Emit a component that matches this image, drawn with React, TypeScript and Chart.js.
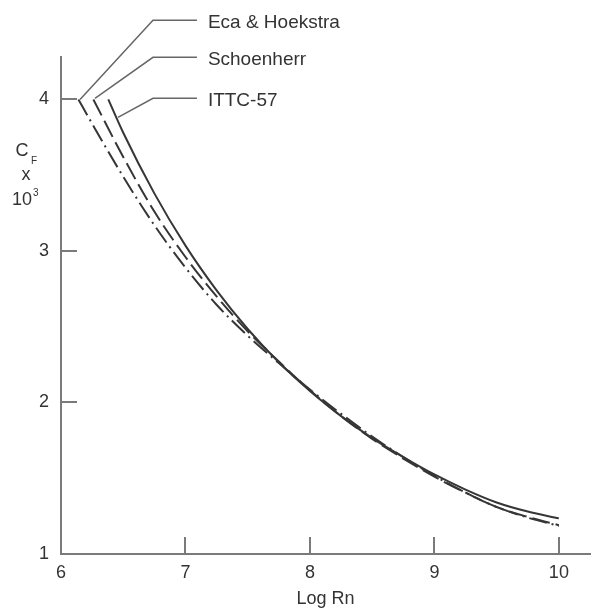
import React, { useEffect, useRef } from "react";
import { Chart, registerables } from "chart.js";

Chart.register(...registerables);

const FONT = "'Liberation Sans', Arial, Helvetica, sans-serif";

// Axis ticks
const X_TICKS = [6, 7, 8, 9, 10];
const Y_TICKS = [1, 2, 3, 4];

// Series names
const SERIES_NAMES = ["Eca & Hoekstra", "Schoenherr", "ITTC-57"];

// Eca & Hoekstra (dash-dot)
const ECA_X = [6.14, 6.25, 6.5, 6.75, 7.0, 7.25, 7.5, 7.75, 8.0, 8.25, 8.5, 8.75, 9.0, 9.25, 9.5, 9.75, 10.0];
const ECA_Y = [4.0, 3.84, 3.49, 3.17, 2.89, 2.645, 2.44, 2.26, 2.085, 1.925, 1.775, 1.64, 1.515, 1.405, 1.31, 1.24, 1.185];

// Schoenherr (dashed)
const SCH_X = [6.26, 6.5, 6.75, 7.0, 7.25, 7.5, 7.75, 8.0, 8.25, 8.5, 8.75, 9.0, 9.25, 9.5, 9.75, 10.0];
const SCH_Y = [4.0, 3.62, 3.26, 2.96, 2.7, 2.47, 2.27, 2.08, 1.91, 1.76, 1.63, 1.51, 1.405, 1.31, 1.245, 1.19];

// ITTC-57 (solid)
const ITTC_X = [6.38, 6.5, 6.75, 7.0, 7.25, 7.5, 7.75, 8.0, 8.25, 8.5, 8.75, 9.0, 9.25, 9.5, 9.75, 10.0];
const ITTC_Y = [4.0, 3.78, 3.38, 3.035, 2.74, 2.485, 2.265, 2.075, 1.91, 1.765, 1.64, 1.525, 1.425, 1.34, 1.28, 1.235];

// Leader lines for the labels (data coordinates)
const LEADER_X = [
  [6.153, 6.739, 7.092],
  [6.273, 6.739, 7.092],
  [6.458, 6.739, 7.092],
];
const LEADER_Y = [
  [4.0, 4.522, 4.522],
  [4.007, 4.278, 4.278],
  [3.881, 4.007, 4.007],
];
const LABEL_X = 7.18;

const pts = (xs: number[], ys: number[]) => xs.map((x, i) => ({ x, y: ys[i] }));

const annotPlugin = {
  id: "annot",
  afterDraw(chart: any) {
    const { ctx, chartArea } = chart;
    const xs = chart.scales.x;
    const ys = chart.scales.y;
    ctx.save();
    // inward tick marks
    ctx.strokeStyle = "#7a7a7a";
    ctx.lineWidth = 2;
    Y_TICKS.forEach((v) => {
      if (v === ys.min) return;
      const py = Math.round(ys.getPixelForValue(v));
      ctx.beginPath();
      ctx.moveTo(chartArea.left, py);
      ctx.lineTo(chartArea.left + 16, py);
      ctx.stroke();
    });
    X_TICKS.forEach((v) => {
      if (v === xs.min) return;
      const px = Math.round(xs.getPixelForValue(v));
      ctx.beginPath();
      ctx.moveTo(px, chartArea.bottom);
      ctx.lineTo(px, chartArea.bottom - 17);
      ctx.stroke();
    });
    // leader lines
    ctx.strokeStyle = "#666";
    ctx.lineWidth = 1.5;
    LEADER_X.forEach((lx, i) => {
      ctx.beginPath();
      lx.forEach((vx, j) => {
        const px = xs.getPixelForValue(vx);
        const py = ys.getPixelForValue(LEADER_Y[i][j]);
        if (j === 0) ctx.moveTo(px, py);
        else ctx.lineTo(px, py);
      });
      ctx.stroke();
    });
    // labels
    ctx.fillStyle = "#333";
    ctx.font = `19px ${FONT}`;
    ctx.textAlign = "left";
    ctx.textBaseline = "middle";
    SERIES_NAMES.forEach((name, i) => {
      const py = ys.getPixelForValue(LEADER_Y[i][2]) + 2;
      ctx.fillText(name, xs.getPixelForValue(LABEL_X), py);
    });
    // y-axis title: C_F x 10^3
    const cx = chartArea.left - 39;
    const t = chartArea.top;
    ctx.font = `18px ${FONT}`;
    ctx.textAlign = "center";
    ctx.fillText("C", cx, t + 94);
    ctx.fillText("x", cx + 4, t + 118);
    ctx.fillText("10", cx, t + 143);
    ctx.font = `10px ${FONT}`;
    ctx.textAlign = "left";
    ctx.fillText("F", cx + 9, t + 104);
    ctx.fillText("3", cx + 11, t + 136);
    ctx.restore();
  },
};

export default function App() {
  const ref = useRef<HTMLCanvasElement>(null);
  useEffect(() => {
    if (!ref.current) return;
    const common = {
      borderColor: "#363636",
      borderWidth: 2,
      pointRadius: 0,
      fill: false,
      cubicInterpolationMode: "monotone" as const,
    };
    const chart = new Chart(ref.current, {
      type: "line",
      data: {
        datasets: [
          { ...common, label: SERIES_NAMES[0], data: pts(ECA_X, ECA_Y), borderDash: [18, 5, 2, 5] },
          { ...common, label: SERIES_NAMES[1], data: pts(SCH_X, SCH_Y), borderDash: [18, 6] },
          { ...common, label: SERIES_NAMES[2], data: pts(ITTC_X, ITTC_Y) },
        ],
      },
      options: {
        responsive: false,
        animation: false,
        layout: { padding: { top: 57, right: 2, left: 0, bottom: 0 } },
        plugins: { legend: { display: false }, tooltip: { enabled: false } },
        scales: {
          x: {
            type: "linear",
            min: 6,
            max: 10.25,
            afterBuildTicks: (s: any) => {
              s.ticks = X_TICKS.map((v) => ({ value: v }));
            },
            afterFit: (s: any) => {
              s.height = 57;
            },
            grid: { display: false, drawTicks: false },
            border: { display: true, color: "#7a7a7a", width: 2 },
            ticks: {
              color: "#333",
              font: { family: FONT, size: 18 },
              padding: 8,
              maxRotation: 0,
              autoSkip: false,
            },
            title: {
              display: true,
              text: "Log Rn",
              color: "#333",
              font: { family: FONT, size: 18 },
              padding: { top: 0, bottom: 1 },
            },
          },
          y: {
            type: "linear",
            min: 1,
            max: 4.28,
            afterBuildTicks: (s: any) => {
              s.ticks = Y_TICKS.map((v) => ({ value: v }));
            },
            afterFit: (s: any) => {
              s.width = 61;
            },
            grid: { display: false, drawTicks: false },
            border: { display: true, color: "#7a7a7a", width: 2 },
            ticks: {
              color: "#333",
              font: { family: FONT, size: 18 },
              padding: 12,
              autoSkip: false,
            },
          },
        },
      },
      plugins: [annotPlugin],
    });
    return () => chart.destroy();
  }, []);
  return (
    <div style={{ position: "absolute", left: 0, top: 0, width: 592, height: 611, background: "#fff" }}>
      <canvas ref={ref} width={592} height={611} style={{ display: "block" }} />
    </div>
  );
}
